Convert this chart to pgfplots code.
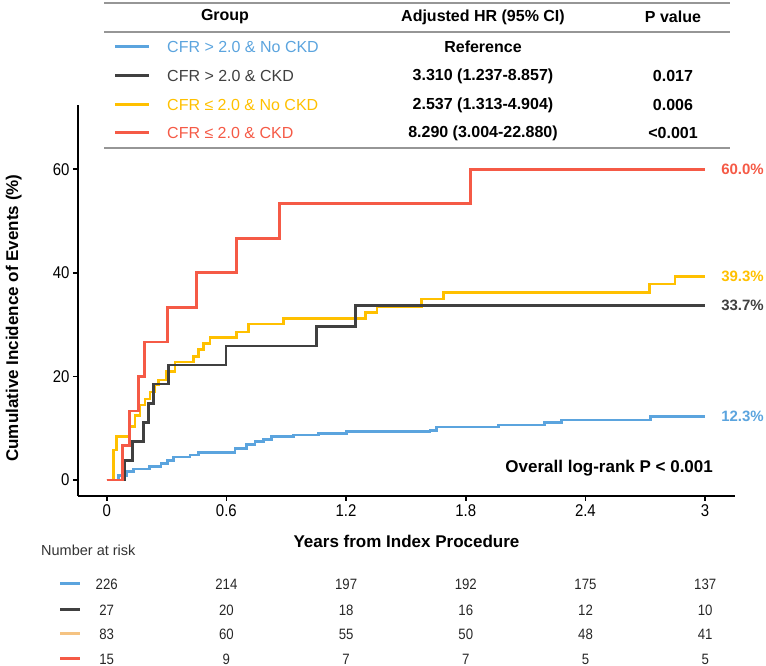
\documentclass[border=0pt]{standalone}
\usepackage{fontspec}
\setmainfont{Liberation Sans}
\newfontfamily\narrow[FakeStretch=0.88]{Liberation Sans}
\usepackage{pgfplots}
\pgfplotsset{compat=1.18}

\definecolor{cblue}{RGB}{91,164,222}
\definecolor{cdark}{RGB}{64,64,64}
\definecolor{cgold}{RGB}{255,192,0}
\definecolor{cred}{RGB}{245,90,70}
\definecolor{csand}{RGB}{245,195,130}
\definecolor{crule}{RGB}{150,150,150}

\newcommand\fs[1]{\fontsize{#1}{#1}\selectfont}

\begin{document}
\begin{tikzpicture}[x=1pt,y=1pt]
\useasboundingbox (0,0) rectangle (766,666);

% header table
\draw[crule, line width=2.2] (104,663) -- (730,663);
\draw[crule, line width=2.2] (104,634) -- (730,634);
\draw[crule, line width=2.2] (104,518) -- (730,518);
\begin{scope}[every node/.style={font=\bfseries\fs{16}, inner sep=0}]
  \node at (225,649) {Group};
  \node at (483,649) {Adjusted HR (95\% CI)};
  \node at (673,649) {P value};
  \node at (483,619) {Reference};
  \node at (483,590) {3.310 (1.237-8.857)};
  \node at (673,590) {0.017};
  \node at (483,561) {2.537 (1.313-4.904)};
  \node at (673,561) {0.006};
  \node at (483,533) {8.290 (3.004-22.880)};
  \node at (673,533) {<0.001};
\end{scope}
\foreach \yy/\cc/\tt in {619/cblue/{CFR > 2.0 \& No CKD},
                         590/cdark/{CFR > 2.0 \& CKD},
                         561/cgold/{CFR ≤ 2.0 \& No CKD},
                         533/cred/{CFR ≤ 2.0 \& CKD}} {
  \draw[\cc, line width=3] (115,\yy) -- (149,\yy);
  \node[anchor=west, inner sep=0, text=\cc, font=\fs{16}] at (167,\yy) {\tt};
}

\begin{axis}[
  at={(78pt,170pt)}, anchor=south west,
  scale only axis, width=657pt, height=391pt,
  xmin=-0.144, xmax=3.15, ymin=-3.1, ymax=72.4,
  axis lines=left,
  axis line style={-, line width=1.6pt},
  tick align=outside,
  major tick length=5pt,
  tick style={line width=1.6pt, black},
  xtick={0,0.6,1.2,1.8,2.4,3},
  xticklabels={0,0.6,1.2,1.8,2.4,3},
  ytick={0,20,40,60},
  /pgf/number format/assume math mode=true,
  tick label style={font=\narrow\fs{17}},
  xlabel={Years from Index Procedure},
  ylabel={Cumulative Incidence of Events (\%)},
  xlabel style={font=\bfseries\fs{17}, at={(axis description cs:0.5,-0.133)}, anchor=base},
  ylabel style={font=\bfseries\fs{17}, at={(axis description cs:-0.0913,0.455)}, anchor=base},
  clip=false,
  every axis plot/.append style={const plot, line width=2.6pt, line join=miter},
]
% CFR > 2.0 & No CKD
\addplot[cblue] coordinates {
  (0,0) (0.06,0.9) (0.10,1.6) (0.134,2.1) (0.214,2.6) (0.272,3.2)
  (0.304,3.7) (0.334,4.4) (0.418,4.8) (0.459,5.3) (0.643,6.1) (0.702,6.8)
  (0.743,7.4) (0.785,7.8) (0.827,8.4) (0.935,8.7) (1.061,9.0) (1.203,9.3)
  (1.62,9.6) (1.654,10.2) (1.963,10.6) (2.194,11.1) (2.281,11.6)
  (2.727,12.3) (3.0,12.3)
};
% CFR <= 2.0 & No CKD
\addplot[cgold] coordinates {
  (0,0) (0.035,5.8) (0.05,8.4) (0.113,10.3) (0.142,12.5) (0.167,14.5)
  (0.192,15.6) (0.217,17.0) (0.239,18.3) (0.26,19.3) (0.301,20.9)
  (0.342,22.8) (0.434,23.8) (0.459,25.2) (0.484,26.4) (0.518,27.5)
  (0.652,28.6) (0.71,30.1) (0.885,31.2) (1.298,32.3) (1.356,33.5)
  (1.579,34.9) (1.687,36.2) (2.72,37.8) (2.849,39.3) (3.0,39.3)
};
% CFR > 2.0 & CKD
\addplot[cdark] coordinates {
  (0,0) (0.092,3.7) (0.128,7.4) (0.184,11.1) (0.209,14.8) (0.234,18.5)
  (0.309,22.2) (0.598,25.9) (1.053,29.6) (1.248,33.7) (3.0,33.7)
};
% CFR <= 2.0 & CKD
\addplot[cred] coordinates {
  (0,0) (0.078,6.67) (0.113,13.33) (0.159,20) (0.189,26.67) (0.306,33.33)
  (0.451,40) (0.652,46.67) (0.865,53.33) (1.824,60) (3.0,60)
};

\begin{scope}[every node/.style={anchor=west, inner sep=0, font=\bfseries\fs{15}, xshift=16pt}]
  \node[text=cred]  at (axis cs:3,60)   {60.0\%};
  \node[text=cgold] at (axis cs:3,39.3) {39.3\%};
  \node[text=cdark] at (axis cs:3,33.7) {33.7\%};
  \node[text=cblue] at (axis cs:3,12.3) {12.3\%};
\end{scope}
\node[anchor=east, inner sep=0, font=\bfseries\fs{17}] at (axis cs:3.04,2.3)
  {Overall log-rank P < 0.001};
\end{axis}

% number at risk
\node[anchor=west, inner sep=0, font=\fs{14.5}, text=cdark!80!black] at (41,116) {Number at risk};
\foreach \yy/\cc/\a/\b/\c/\d/\e/\f in {82/cblue/226/214/197/192/175/137,
                                        56/cdark/27/20/18/16/12/10,
                                        32/csand/83/60/55/50/48/41,
                                        7/cred/15/9/7/7/5/5} {
  \draw[\cc, line width=3] (60,\yy) -- (80,\yy);
  \begin{scope}[every node/.style={inner sep=0, font=\narrow\fs{15}, text=cdark!60!black}]
    \node at (106.7,\yy) {\a};
    \node at (226.4,\yy) {\b};
    \node at (346.1,\yy) {\c};
    \node at (465.8,\yy) {\d};
    \node at (585.5,\yy) {\e};
    \node at (705.2,\yy) {\f};
  \end{scope}
}
\end{tikzpicture}
\end{document}
